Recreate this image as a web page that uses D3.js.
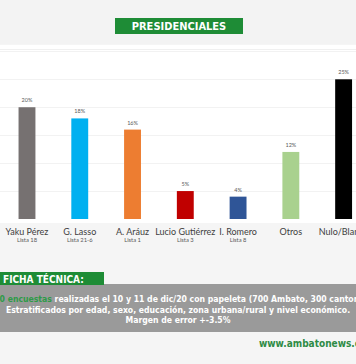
<!DOCTYPE html>
<html><head><meta charset="utf-8">
<script src="https://cdn.jsdelivr.net/npm/d3@7"></script>
<style>html,body{margin:0;padding:0;background:#f5f5f5;overflow:hidden}</style>
</head><body>
<script>
const categories = ["Yaku Pérez","G. Lasso","A. Aráuz","Lucio Gutiérrez","I. Romero","Otros","Nulo/Blanco"];
const sublabels = ["Lista 18","Lista 21-6","Lista 1","Lista 3","Lista 8","",""];
const values = [20,18,16,5,4,12,25];
const colors = ["#767171","#00b0f0","#ed7d31","#c00000","#2f5597","#a9d18e","#000000"];
const gridTicks = [5,10,15,20,25,30];
const title = "PRESIDENCIALES";
const fichaTitle = "FICHA TÉCNICA:";
const fichaLines = ["Estratificados por edad, sexo, educación, zona urbana/rural y nivel económico.","Margen de error +-3.5%"];
const site = "www.ambatonews.com";

const W=356,H=364;
const svg=d3.select("body").append("svg").attr("width",W).attr("height",H);
svg.append("rect").attr("width",W).attr("height",H).attr("fill","#f5f5f5");
svg.append("rect").attr("x",0).attr("y",0).attr("width",W).attr("height",44).attr("fill","#f3f3f3");
svg.append("rect").attr("x",0).attr("y",45).attr("width",W).attr("height",178).attr("fill","#ffffff");
svg.append("line").attr("x1",0).attr("x2",W).attr("y1",49.5).attr("y2",49.5).attr("stroke","#f0f0f0");

// title
svg.append("rect").attr("x",115).attr("y",18).attr("width",128).attr("height",16).attr("fill","#1e8c36");
svg.append("text").attr("x",179).attr("y",30).attr("text-anchor","middle").attr("fill","#fff")
  .attr("font-family","DejaVu Sans Condensed, DejaVu Sans").attr("font-weight","bold").attr("font-size",11).text(title);

const x=d3.scaleBand().domain(categories).range([0.6,370]).paddingInner(0.68).paddingOuter(0.34);
const y=d3.scaleLinear().domain([0,25]).range([219,79.3]);

const g=svg.append("g");
g.selectAll(".grid").data(gridTicks).join("line")
  .attr("x1",0).attr("x2",W).attr("y1",d=>Math.round(y(d))+0.5).attr("y2",d=>Math.round(y(d))+0.5)
  .attr("stroke","#f2f2f2").attr("stroke-width",1);

g.selectAll(".bar").data(values).join("rect")
  .attr("x",(d,i)=>x(categories[i])).attr("width",x.bandwidth())
  .attr("y",d=>y(d)).attr("height",d=>y(0)-y(d)).attr("fill",(d,i)=>colors[i]);

g.selectAll(".val").data(values).join("text")
  .attr("x",(d,i)=>x(categories[i])+x.bandwidth()/2).attr("y",d=>y(d)-5)
  .attr("text-anchor","middle").attr("font-family","Lato, Open Sans, sans-serif").attr("font-size",5.5).attr("fill","#595959")
  .text(d=>d+"%");

g.selectAll(".cat").data(categories).join("text")
  .attr("x",d=>x(d)+x.bandwidth()/2).attr("y",235)
  .attr("text-anchor","middle").attr("font-family","Lato, Open Sans, sans-serif").attr("font-size",9).attr("fill","#404040")
  .text(d=>d);
g.selectAll(".sub").data(sublabels).join("text")
  .attr("x",(d,i)=>x(categories[i])+x.bandwidth()/2).attr("y",242)
  .attr("text-anchor","middle").attr("font-family","Lato, Open Sans, sans-serif").attr("font-size",5.8).attr("fill","#595959")
  .text(d=>d);

// ficha tecnica
svg.append("rect").attr("x",0).attr("y",284).attr("width",W).attr("height",48).attr("fill","#9a9a9a");
svg.append("rect").attr("x",0).attr("y",272).attr("width",104).attr("height",13).attr("fill","#1e8c36");
svg.append("text").attr("x",3).attr("y",282.5).attr("fill","#fff").attr("font-family","DejaVu Sans Condensed, DejaVu Sans")
  .attr("font-weight","bold").attr("font-size",10).text(fichaTitle);

const f="DejaVu Sans Condensed, DejaVu Sans";
const t1=svg.append("text").attr("x",178).attr("y",302).attr("text-anchor","middle").attr("font-family",f)
  .attr("font-weight","bold").attr("font-size",8.6).attr("fill","#fff");
t1.append("tspan").attr("fill","#2e9a48").text("1000 encuestas");
t1.append("tspan").text(" realizadas el 10 y 11 de dic/20 con papeleta (700 Ambato, 300 cantones)");
svg.selectAll(".fl").data(fichaLines).join("text")
  .attr("x",178).attr("y",(d,i)=>313+i*10).attr("text-anchor","middle").attr("font-family",f)
  .attr("font-weight","bold").attr("font-size",8.6).attr("fill","#fff").text(d=>d);

svg.append("text").attr("x",259).attr("y",347).attr("font-family",f).attr("font-weight","bold")
  .attr("font-size",10).attr("fill","#2e8b45").text(site);
</script>
</body></html>
